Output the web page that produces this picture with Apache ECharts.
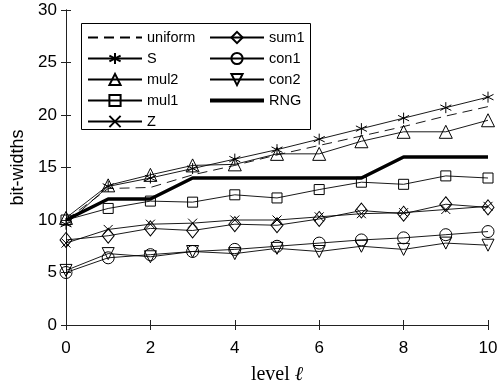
<!DOCTYPE html>
<html>
<head>
<meta charset="utf-8">
<script src="https://cdn.jsdelivr.net/npm/echarts@6/dist/echarts.min.js"></script>
<style>
  html, body { margin: 0; padding: 0; background: #fff; }
  #chart { width: 498px; height: 385px; }
</style>
</head>
<body>
<div id="chart"></div>
<script>
// levels on the x axis
const levels = [0, 1, 2, 3, 4, 5, 6, 7, 8, 9, 10]

// bit-widths per level
const uniform = [10.0, 13.0, 13.1, 14.3, 15.2, 16.2, 17.1, 18.0, 18.9, 19.9, 20.8]
const S = [9.6, 13.2, 14.0, 14.9, 15.8, 16.7, 17.7, 18.7, 19.7, 20.7, 21.7]
const mul2 = [10.2, 13.3, 14.3, 15.2, 15.3, 16.3, 16.3, 17.5, 18.4, 18.4, 19.5]
const mul1 = [10.0, 11.1, 11.8, 11.7, 12.4, 12.1, 12.9, 13.6, 13.4, 14.2, 14.0]
const Z = [7.8, 9.1, 9.6, 9.7, 10.0, 10.0, 10.3, 10.6, 10.7, 11.0, 11.3]
const sum1 = [8.1, 8.5, 9.2, 9.0, 9.6, 9.5, 10.1, 10.9, 10.6, 11.5, 11.2]
const con1 = [5.0, 6.4, 6.7, 7.0, 7.2, 7.5, 7.8, 8.1, 8.3, 8.6, 8.9]
const con2 = [5.2, 6.8, 6.5, 7.0, 6.8, 7.3, 7.0, 7.5, 7.2, 7.8, 7.6]
const RNG = [10, 12, 12, 14, 14, 14, 14, 14, 16, 16, 16]

const xTicks = [0, 2, 4, 6, 8, 10]
const yTicks = [0, 5, 10, 15, 20, 25, 30]

const legendLeft = ['uniform', 'S', 'mul2', 'mul1', 'Z']
const legendRight = ['sum1', 'con1', 'con2', { name: 'RNG', lineStyle: { width: 4 } }]

const asterisk = 'path://M0,-1L0,1M-0.87,-0.5L0.87,0.5M-0.87,0.5L0.87,-0.5'
const cross = 'path://M-1,-1L1,1M-1,1L1,-1'
const downTri = 'path://M-1,-0.85L1,-0.85L0,0.85Z'

const font = '"Liberation Sans", Arial, sans-serif'
const serif = '"Liberation Serif", "DejaVu Serif", serif'

function pairs(vals) {
  return levels.map((l, i) => [l, vals[i]])
}

function lineSeries(name, vals, symbol, size, extra) {
  return Object.assign({
    name: name,
    type: 'line',
    data: pairs(vals),
    symbol: symbol,
    symbolSize: size,
    showAllSymbol: true,
    color: '#000',
    lineStyle: { color: '#000', width: 0.9 },
    itemStyle: { color: 'rgba(0,0,0,0)', borderColor: '#000', borderWidth: 1 },
    emphasis: { disabled: true },
    z: 3
  }, extra || {})
}

// plain line without markers (legend marker stays invisible)
const hidden = { showSymbol: false, itemStyle: { color: 'rgba(0,0,0,0)', borderWidth: 0 } }

const axisCommon = {
  type: 'value',
  axisLine: { show: true, lineStyle: { color: '#222', width: 1 } },
  axisTick: { show: true, inside: true, length: 5, lineStyle: { color: '#222' } },
  splitLine: { show: false }
}

const legendCommon = {
  orient: 'vertical', top: 25, padding: 5,
  itemWidth: 54, itemHeight: 14, itemGap: 6,
  textStyle: { fontFamily: font, fontSize: 14.5, color: '#000' },
  selectedMode: false
}

const option = {
  animation: false,
  backgroundColor: '#fff',
  grid: { left: 66, right: 10, top: 10, bottom: 60, outerBoundsMode: 'none', containLabel: false },
  xAxis: [
    Object.assign({}, axisCommon, {
      min: 0, max: 10, interval: 2,
      name: 'level {i|ℓ}',
      nameLocation: 'middle',
      nameGap: 40,
      nameTextStyle: {
        fontFamily: serif, fontSize: 20, color: '#000',
        rich: { i: { fontFamily: serif, fontSize: 20, fontStyle: 'italic', color: '#000' } }
      },
      axisLabel: { color: '#000', fontSize: 17, fontFamily: font, margin: 15,
        formatter: v => xTicks.includes(v) ? String(v) : '' }
    }),
    Object.assign({}, axisCommon, {
      position: 'top', min: 0, max: 10, interval: 2,
      axisLabel: { show: false }
    })
  ],
  yAxis: [
    Object.assign({}, axisCommon, {
      min: 0, max: 30, interval: 5,
      name: 'bit-widths',
      nameLocation: 'middle',
      nameGap: 35,
      nameTextStyle: { fontFamily: font, fontSize: 18, color: '#000' },
      axisLabel: { color: '#000', fontSize: 17, fontFamily: font, margin: 9,
        formatter: v => yTicks.includes(v) ? String(v) : '' }
    }),
    Object.assign({}, axisCommon, {
      position: 'right', min: 0, max: 30, interval: 5,
      axisLabel: { show: false }
    })
  ],
  legend: [
    Object.assign({}, legendCommon, { data: legendLeft, left: 82 }),
    Object.assign({}, legendCommon, { data: legendRight, left: 203 })
  ],
  graphic: [
    { type: 'rect', shape: { x: 81.5, y: 23.5, width: 229, height: 106 },
      style: { fill: 'none', stroke: '#000', lineWidth: 1 }, z: 10 }
  ],
  series: [
    lineSeries('uniform', uniform, 'circle', 2, Object.assign({ lineStyle: { color: '#000', width: 0.9, type: [10, 6] } }, hidden)),
    lineSeries('S', S, asterisk, 11),
    lineSeries('mul2', mul2, 'triangle', 13),
    lineSeries('mul1', mul1, 'rect', 10),
    lineSeries('Z', Z, cross, 9),
    lineSeries('sum1', sum1, 'diamond', [12, 15]),
    lineSeries('con1', con1, 'circle', 12),
    lineSeries('con2', con2, downTri, 12),
    lineSeries('RNG', RNG, 'circle', 2, Object.assign({ lineStyle: { color: '#000', width: 3.5 }, z: 4 }, hidden))
  ]
}

const chart = echarts.init(document.getElementById('chart'), null, { renderer: 'canvas' })
chart.setOption(option)
</script>
</body>
</html>
